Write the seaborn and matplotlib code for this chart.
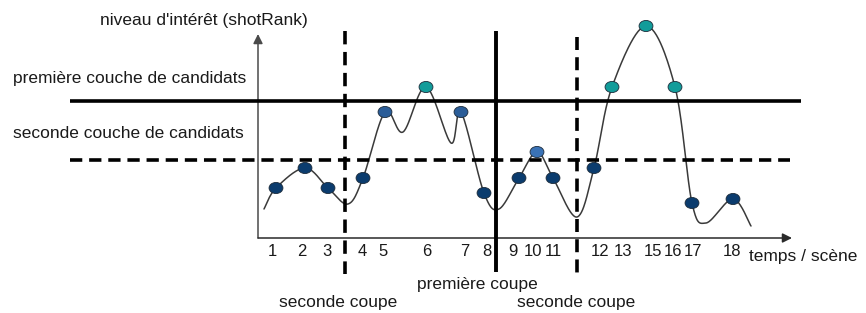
import numpy as np
import pandas as pd
import matplotlib
matplotlib.use("Agg")
import matplotlib.pyplot as plt
from matplotlib.path import Path
import seaborn as sns

scenes = ['1', '2', '3', '4', '5', '6', '7', '8', '9', '10', '11', '12', '13', '15', '16', '17', '18']
point_t = [18, 47, 70, 105, 127, 168, 203, 226, 261, 279, 295, 336, 354, 388, 417, 434, 475]
point_niveau = [50, 70, 50, 60, 126, 151, 126, 45, 60, 86, 60, 70, 151, 212, 151, 35, 39]
point_groupe = ['fonce', 'fonce', 'fonce', 'fonce', 'moyen', 'sarcelle', 'moyen', 'fonce', 'fonce',
                'clair', 'fonce', 'fonce', 'sarcelle', 'sarcelle', 'sarcelle', 'fonce', 'fonce']

# position des étiquettes de scène sous l'axe
label_t = [14, 44, 69, 104, 125, 169, 207, 229, 255, 275, 295, 342, 365, 395, 415, 435, 474]

# noeuds de la courbe (points + creux)
courbe_t = [6, 18, 47, 70, 90, 105, 127, 145, 168, 193, 203, 226, 241, 261, 279, 295, 319,
            336, 354, 388, 417, 434, 448, 475, 493]
courbe_niveau = [29, 50, 70, 50, 34, 60, 126, 106, 151, 95, 126, 45, 29, 60, 86, 60, 21,
                 70, 151, 212, 151, 35, 15, 39, 12]

# seuils et coupes
seuil_premiere = 137
seuil_seconde = 78
coupe_seconde_1 = 87
coupe_premiere = 238
coupe_seconde_2 = 319

couleurs = {'fonce': '#0b3c6e', 'moyen': '#2b5d98', 'clair': '#3a72b5', 'sarcelle': '#129c9a'}


def catmull_rom(xs, ys, n=30):
    # lissage de la courbe entre les noeuds
    px = np.r_[xs[0], xs, xs[-1]].astype(float)
    py = np.r_[ys[0], ys, ys[-1]].astype(float)
    ox, oy = [], []
    for i in range(1, len(px) - 2):
        s = np.linspace(0, 1, n, endpoint=False)
        for p, o in ((px, ox), (py, oy)):
            p0, p1, p2, p3 = p[i - 1], p[i], p[i + 1], p[i + 2]
            o.extend(0.5 * (2 * p1 + (-p0 + p2) * s + (2 * p0 - 5 * p1 + 4 * p2 - p3) * s ** 2
                            + (-p0 + 3 * p1 - 3 * p2 + p3) * s ** 3))
    ox.append(xs[-1])
    oy.append(ys[-1])
    return np.array(ox), np.array(oy)


sns.set_style("white")
plt.rcParams['font.family'] = ['Liberation Sans', 'DejaVu Sans']

fig = plt.figure(figsize=(8.66, 3.13), dpi=100)
ax = fig.add_axes([0, 0, 1, 1])
ax.set_xlim(-258, 608)
ax.set_ylim(-75, 238)
ax.axis('off')

# courbe lissée
cx, cy = catmull_rom(courbe_t, courbe_niveau)
df_courbe = pd.DataFrame({'t': cx, 'niveau': cy})
sns.lineplot(data=df_courbe, x='t', y='niveau', sort=False, estimator=None,
             color='#3a3a3a', linewidth=1.1, ax=ax, zorder=2)

# points (ellipses)
cercle = Path.unit_circle()
ellipse = Path(cercle.vertices * [1, 0.8], cercle.codes)
df_points = pd.DataFrame({'t': point_t, 'niveau': point_niveau, 'groupe': point_groupe})
sns.scatterplot(data=df_points, x='t', y='niveau', hue='groupe', palette=couleurs,
                marker=ellipse, s=100, edgecolor='#1c2b3a', linewidth=0.6,
                legend=False, ax=ax, zorder=3)

# axes avec flèches
ax.annotate('', xy=(0, 204), xytext=(0, 0),
            arrowprops=dict(arrowstyle='-|>', color='#4a4a4a', lw=1.1, mutation_scale=14,
                            shrinkA=0, shrinkB=0))
ax.annotate('', xy=(534, 0), xytext=(0, 0),
            arrowprops=dict(arrowstyle='-|>', color='#2a2a2a', lw=1.1, mutation_scale=14,
                            shrinkA=0, shrinkB=0))

# seuils de candidats
ax.plot([-188, 543], [seuil_premiere] * 2, color='black', lw=2.6, zorder=4, solid_capstyle='butt')
ax.plot([-188, 532], [seuil_seconde] * 2, color='black', lw=2.6, zorder=4,
        dashes=(3.4, 1.9))

# coupes
ax.plot([coupe_seconde_1] * 2, [207, -36], color='black', lw=2.6, zorder=4, dashes=(3.7, 2.1))
ax.plot([coupe_premiere] * 2, [207, -34], color='black', lw=2.8, zorder=4, solid_capstyle='butt')
ax.plot([coupe_seconde_2] * 2, [201, -39], color='black', lw=2.6, zorder=4, dashes=(3.6, 2.0))

# étiquettes des scènes
for t, lab in zip(label_t, scenes):
    ax.text(t, -14, lab, ha='center', va='center', fontsize=12, color='#1a1a1a')

fs = 12.5
ax.text(50, 218, "niveau d'intérêt (shotRank)", ha='right', va='center', fontsize=fs, color='#1a1a1a')
ax.text(-245, 160, 'première couche de candidats', ha='left', va='center', fontsize=fs, color='#1a1a1a')
ax.text(-245, 105, 'seconde couche de candidats', ha='left', va='center', fontsize=fs, color='#1a1a1a')
ax.text(491, -19, 'temps / scène', ha='left', va='center', fontsize=fs, color='#1a1a1a')
ax.text(159, -46, 'première coupe', ha='left', va='center', fontsize=fs, color='#1a1a1a')
ax.text(21, -64, 'seconde coupe', ha='left', va='center', fontsize=fs, color='#1a1a1a')
ax.text(259, -64, 'seconde coupe', ha='left', va='center', fontsize=fs, color='#1a1a1a')

fig.savefig('out.png', dpi=100)
